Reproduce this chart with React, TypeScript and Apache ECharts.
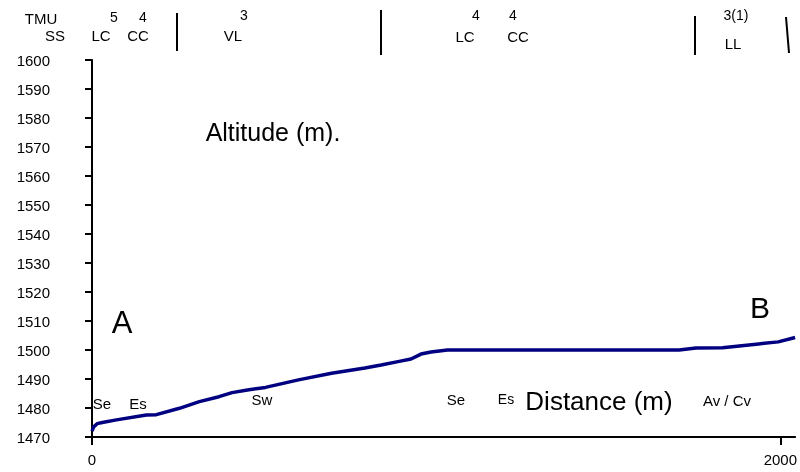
import React, { useEffect, useRef } from "react";
import * as echarts from "echarts";

const distance = [0, 5, 15, 30, 71, 158, 187, 254, 312, 369, 407, 456, 504, 600, 696, 793, 840, 889, 927, 956, 985, 1033, 1706, 1755, 1832, 1937, 1994, 2043];
const altitude = [1472, 1473.5, 1474.6, 1475, 1475.9, 1477.6, 1477.7, 1479.9, 1482.2, 1483.9, 1485.3, 1486.3, 1487.1, 1489.7, 1492, 1493.8, 1494.8, 1496, 1496.9, 1498.6, 1499.3, 1500, 1500, 1500.7, 1500.8, 1502.1, 1502.8, 1504.3];
const yTicks = { min: 1470, max: 1600, step: 10 };
const xLabels = [0, 2000];

const headerTexts: { t: string; x: number; y: number; s?: number }[] = [
  { t: "TMU", x: 41, y: 18 },
  { t: "SS", x: 55, y: 35 },
  { t: "5", x: 114, y: 17, s: 14 },
  { t: "4", x: 143, y: 17, s: 14 },
  { t: "LC", x: 101, y: 35 },
  { t: "CC", x: 138, y: 35 },
  { t: "3", x: 244, y: 15, s: 14 },
  { t: "VL", x: 233, y: 35 },
  { t: "4", x: 476, y: 15, s: 14 },
  { t: "4", x: 513, y: 15, s: 14 },
  { t: "LC", x: 465, y: 36 },
  { t: "CC", x: 518, y: 36 },
  { t: "3(1)", x: 736, y: 15, s: 14 },
  { t: "LL", x: 733, y: 43 },
];

const plotTexts: { t: string; x: number; y: number; s: number }[] = [
  { t: "Altitude (m).", x: 273, y: 132, s: 25 },
  { t: "A", x: 122, y: 322, s: 31 },
  { t: "B", x: 760, y: 307, s: 30 },
  { t: "Distance (m)", x: 599, y: 401, s: 26 },
  { t: "Se", x: 102, y: 403, s: 15 },
  { t: "Es", x: 138, y: 403, s: 15 },
  { t: "Sw", x: 262, y: 399, s: 15 },
  { t: "Se", x: 456, y: 399, s: 15 },
  { t: "Es", x: 506, y: 399, s: 14 },
  { t: "Av / Cv", x: 727, y: 400, s: 15 },
];

const bars: [number, number, number, number][] = [
  [177, 13, 177, 51],
  [381, 10, 381, 55],
  [695, 16, 695, 55],
  [786, 17, 789, 53],
];

const FONT = "'Liberation Sans', Arial, sans-serif";

export default function App() {
  const ref = useRef<HTMLDivElement>(null);
  useEffect(() => {
    if (!ref.current) return;
    const chart = echarts.init(ref.current, undefined, { renderer: "svg" });
    const graphic: any[] = [];
    headerTexts.forEach((h) =>
      graphic.push({
        type: "text",
        x: h.x,
        y: h.y,
        style: { text: h.t, fill: "#000", font: `${h.s ?? 15}px ${FONT}`, textAlign: "center", textVerticalAlign: "middle" },
      })
    );
    plotTexts.forEach((h) =>
      graphic.push({
        type: "text",
        x: h.x,
        y: h.y,
        style: { text: h.t, fill: "#000", font: `${h.s}px ${FONT}`, textAlign: "center", textVerticalAlign: "middle" },
      })
    );
    bars.forEach((b) =>
      graphic.push({
        type: "line",
        shape: { x1: b[0], y1: b[1], x2: b[2], y2: b[3] },
        style: { stroke: "#000", lineWidth: 2 },
      })
    );
    chart.setOption({
      animation: false,
      grid: { left: 92, right: 0, top: 60, bottom: 35, containLabel: false },
      xAxis: {
        type: "value",
        min: 0,
        max: 2043,
        interval: 2000,
        splitLine: { show: false },
        axisLine: { lineStyle: { color: "#000", width: 2 } },
        axisTick: { show: true, length: 8, lineStyle: { color: "#000", width: 2 }, customValues: xLabels },
        axisLabel: {
          color: "#000",
          fontSize: 15,
          fontFamily: FONT,
          margin: 15,
          customValues: xLabels,
          formatter: (v: number) => String(v),
        },
      },
      yAxis: {
        type: "value",
        min: yTicks.min,
        max: yTicks.max,
        interval: yTicks.step,
        splitLine: { show: false },
        axisLine: { show: true, lineStyle: { color: "#000", width: 2 } },
        axisTick: { show: true, length: 7, lineStyle: { color: "#000", width: 2 } },
        axisLabel: { color: "#000", fontSize: 15, fontFamily: FONT, margin: 42, formatter: (v: number) => String(v) },
      },
      series: [
        {
          type: "line",
          data: distance.map((d, i) => [d, altitude[i]]),
          showSymbol: false,
          lineStyle: { color: "#000080", width: 3.5 },
          itemStyle: { color: "#000080" },
        },
      ],
      graphic,
    });
    return () => chart.dispose();
  }, []);
  return <div ref={ref} style={{ position: "fixed", left: 0, top: 0, width: 800, height: 472 }} />;
}
